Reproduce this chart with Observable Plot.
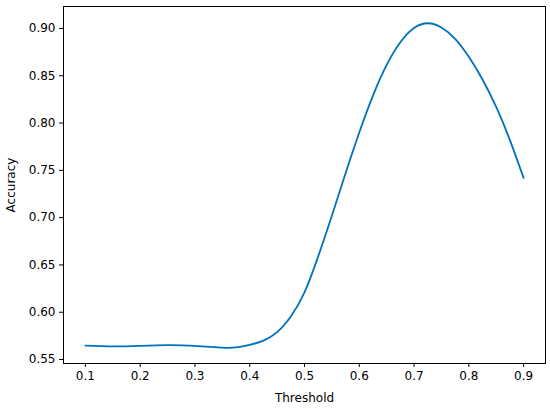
<!DOCTYPE html>
<html>
<head>
<meta charset="utf-8">
<script src="https://cdn.jsdelivr.net/npm/d3@7"></script>
<script src="https://cdn.jsdelivr.net/npm/@observablehq/plot@0.6"></script>
<style>
  html, body { margin: 0; padding: 0; background: #fff; }
</style>
</head>
<body>
<div id="chart"></div>
<script>
const thresholds = [0.10, 0.15, 0.20, 0.25, 0.30, 0.35, 0.375, 0.40, 0.425, 0.45, 0.475, 0.50, 0.525, 0.55, 0.575, 0.60, 0.625, 0.65, 0.675, 0.70, 0.725, 0.75, 0.775, 0.80, 0.825, 0.85, 0.875, 0.90];
const accuracy = [0.5647, 0.5638, 0.5645, 0.5653, 0.5645, 0.5625, 0.5628, 0.5655, 0.5700, 0.5790, 0.5955, 0.621, 0.659, 0.702, 0.747, 0.790, 0.829, 0.8615, 0.8855, 0.9005, 0.9055, 0.901, 0.889, 0.870, 0.846, 0.817, 0.782, 0.742];
const xTicks = [0.1, 0.2, 0.3, 0.4, 0.5, 0.6, 0.7, 0.8, 0.9];
const yTicks = [0.55, 0.60, 0.65, 0.70, 0.75, 0.80, 0.85, 0.90];

const data = thresholds.map((t, i) => ({t, a: accuracy[i]}));

const chart = Plot.plot({
  width: 550,
  height: 409,
  marginLeft: 63,
  marginRight: 5,
  marginTop: 6,
  marginBottom: 46,
  style: {fontFamily: "DejaVu Sans", fontSize: "12px", color: "#000", background: "#fff"},
  x: {domain: [0.06, 0.94]},
  y: {domain: [0.5458, 0.9232]},
  marks: [
    Plot.line(data, {x: "t", y: "a", curve: "natural", stroke: "#0072bd", strokeWidth: 1.8}),
    Plot.frame({stroke: "#000", strokeWidth: 1}),
    Plot.axisX({ticks: xTicks, tickFormat: d3.format(".1f"), tickSize: 4, tickPadding: 4, label: "Threshold", labelAnchor: "center", labelArrow: "none", labelOffset: 38}),
    Plot.axisY({ticks: yTicks, tickFormat: d3.format(".2f"), tickSize: 4, tickPadding: 4, label: "Accuracy", labelAnchor: "center", labelArrow: "none", labelOffset: 57})
  ]
});
document.getElementById("chart").appendChild(chart);
</script>
</body>
</html>
